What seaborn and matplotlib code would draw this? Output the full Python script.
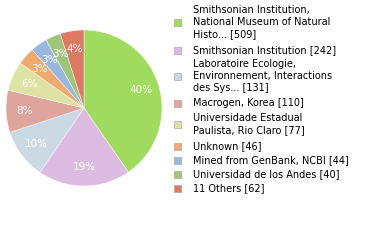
import matplotlib
matplotlib.use("Agg")
import matplotlib.pyplot as plt
import seaborn as sns
import numpy as np

sns.set_theme(style="white")
plt.rcParams['font.family'] = ['DejaVu Sans']

labels = [
    "Smithsonian Institution,\nNational Museum of Natural\nHisto... [509]",
    "Smithsonian Institution [242]",
    "Laboratoire Ecologie,\nEnvironnement, Interactions\ndes Sys... [131]",
    "Macrogen, Korea [110]",
    "Universidade Estadual\nPaulista, Rio Claro [77]",
    "Unknown [46]",
    "Mined from GenBank, NCBI [44]",
    "Universidad de los Andes [40]",
    "11 Others [62]",
]
values = [509, 242, 131, 110, 77, 46, 44, 40, 62]
colors = ["#a0da5f", "#dcbde1", "#cbd9e5", "#dfa59c", "#dee2a2",
          "#eeaa6f", "#9ab8de", "#9fc47c", "#de7a61"]

fig = plt.figure(figsize=(3.8, 2.4), dpi=100)
ax = fig.add_axes([6/380, (240-186)/240, 156/380, 156/240])
total = sum(values)
wedges, texts = ax.pie(values, colors=colors, startangle=90, counterclock=False,
                       wedgeprops=dict(linewidth=0.3, edgecolor="white"))
for w, v in zip(wedges, values):
    ang = np.deg2rad((w.theta1 + w.theta2) / 2)
    pct = int(100 * v / total)
    ax.text(0.76 * np.cos(ang), 0.76 * np.sin(ang), f"{pct}%", ha="center", va="center",
            color="white", fontsize=7.5)
ax.set_xlim(-1, 1)
ax.set_ylim(-1, 1)
ax.set_aspect("equal")
ax.axis("off")

# legend
ys = [22, 50, 76, 103, 124, 146, 160, 174, 188]
for y, lab, c in zip(ys, labels, colors):
    fig.patches.append(plt.Rectangle((174/380, 1 - (y + 3.5)/240), 7/380, 7/240,
                                     transform=fig.transFigure, facecolor=c,
                                     edgecolor="#999999", linewidth=0.4))
    fig.text(193/380, 1 - y/240, lab, ha="left", va="center", fontsize=7,
             color="black", linespacing=1.25)

fig.savefig("out.png", dpi=100)
